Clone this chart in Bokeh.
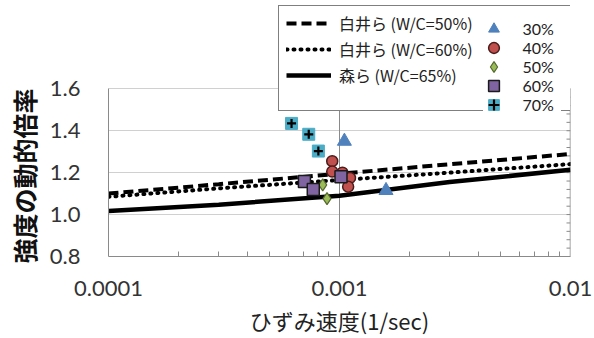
import math
from bokeh.plotting import figure
from bokeh.models import (FixedTicker, Legend, LegendItem, Range1d, Title,
                          PrintfTickFormatter, CustomJSTickFormatter)
from bokeh.embed import file_html
from bokeh.resources import INLINE

# ---- data ----
strain_line = [1e-4, 3e-4, 1e-3, 3e-3, 1e-2]
shirai_50 = [1.100, 1.145, 1.195, 1.240, 1.289]
shirai_60 = [1.085, 1.125, 1.165, 1.200, 1.241]
mori_65 = [1.017, 1.047, 1.090, 1.155, 1.214]

wc30_x = [1.05e-3, 1.59e-3]
wc30_y = [1.350, 1.115]
wc40_x = [9.3e-4, 9.3e-4, 1.03e-3, 1.11e-3, 1.09e-3]
wc40_y = [1.255, 1.205, 1.200, 1.175, 1.133]
wc50_x = [8.46e-4, 8.83e-4]
wc50_y = [1.142, 1.076]
wc60_x = [7.05e-4, 7.7e-4, 1.015e-3]
wc60_y = [1.158, 1.120, 1.181]
wc70_x = [6.2e-4, 7.36e-4, 8.1e-4]
wc70_y = [1.435, 1.383, 1.303]

x_ticks = [1e-4, 1e-3, 1e-2]
x_tick_labels = ["0.0001", "0.001", "0.01"]
x_minor = [k * 10.0 ** e for e in (-4, -3) for k in range(2, 10)]
y_ticks = [0.8, 1.0, 1.2, 1.4, 1.6]
y_minor = [round(0.8 + 0.04 * i, 2) for i in range(21)]

x_title = "ひずみ速度(1/sec)"
y_title = "強度の動的倍率"
line_labels = ["白井ら (W/C=50%)", "白井ら (W/C=60%)", "森ら (W/C=65%)"]
marker_labels = ["30%", "40%", "50%", "60%", "70%"]

CJK = "Noto Sans CJK JP"
LAT = "Lato"
GRAY = "#8a8a8a"

# frame spans the full height above the x axis so the legend can overlap the top
FRAME_H = 258
PX_PER_UNIT = 169 / (y_ticks[-1] - y_ticks[0])
y_top = y_ticks[0] + FRAME_H / PX_PER_UNIT

p = figure(width=594, height=338, x_axis_type="log",
           x_range=Range1d(x_ticks[0], x_ticks[-1]), y_range=Range1d(y_ticks[0], y_top),
           output_backend="svg", toolbar_location=None,
           min_border_left=107, min_border_right=24,
           min_border_top=0, min_border_bottom=80)
p.outline_line_color = None
p.background_fill_color = "white"
p.border_fill_color = "white"

# x axis
xa = p.xaxis[0]
xa.ticker = FixedTicker(ticks=x_ticks, minor_ticks=x_minor)
xa.formatter = CustomJSTickFormatter(args=dict(xt=x_ticks, xl=x_tick_labels), code="""
let best = 0, bd = 1e9;
for (let i = 0; i < xt.length; i++) {
  const d = Math.abs(Math.log10(xt[i]) - Math.log10(tick));
  if (d < bd) { bd = d; best = i; }
}
return xl[best];
""")
xa.axis_line_color = GRAY
xa.major_tick_in = 0
xa.major_tick_out = 0
xa.minor_tick_in = 5
xa.minor_tick_out = 0
xa.minor_tick_line_color = GRAY
xa.major_label_text_font = LAT
xa.major_label_text_font_size = "22px"
xa.major_label_text_color = "#333333"
xa.major_label_standoff = 24
xa.axis_label = x_title
xa.axis_label_text_font = CJK
xa.axis_label_text_font_size = "22px"
xa.axis_label_text_font_style = "normal"
xa.axis_label_text_color = "#222222"
xa.axis_label_standoff = 5

# y axis
ya = p.yaxis[0]
ya.ticker = FixedTicker(ticks=y_ticks)
ya.bounds = (y_ticks[0], y_ticks[-1])
ya.formatter = PrintfTickFormatter(format="%.1f")
ya.axis_line_color = GRAY
ya.major_tick_in = 0
ya.major_tick_out = 0
ya.minor_tick_in = 0
ya.minor_tick_out = 0
ya.major_label_text_font = LAT
ya.major_label_text_font_size = "22px"
ya.major_label_text_color = "#333333"
ya.major_label_standoff = 28

# y title as a left-side title, aligned from the bottom of the panel
yt = Title(text=y_title, align="left", offset=-7, standoff=8, vertical_align="middle",
           text_font=CJK, text_font_size="25px", text_font_style="bold",
           text_color="#111111")
p.add_layout(yt, "left")

# grids
p.xgrid.visible = False
p.ygrid.grid_line_color = "#d0d0d0"
p.ygrid.grid_line_width = 1
p.segment(x0=[x_ticks[1]], y0=[y_ticks[0]], x1=[x_ticks[1]], y1=[y_ticks[-1]],
          line_color=GRAY, line_width=1)
# right border with inward minor ticks
p.segment(x0=[x_ticks[-1]], y0=[y_ticks[0]], x1=[x_ticks[-1]], y1=[y_ticks[-1]],
          line_color=GRAY, line_width=1.5)
p.ray(x=[x_ticks[-1]] * len(y_minor), y=y_minor, length=4, length_units="screen",
      angle=math.pi, line_color=GRAY, line_width=1)

# lines
l50 = p.line(strain_line, shirai_50, line_color="black", line_width=4, line_dash="10 5")
l60 = p.line(strain_line, shirai_60, line_color="black", line_width=4, line_dash="1 6", line_cap="round")
l65 = p.line(strain_line, mori_65, line_color="black", line_width=4.5)
dummy = p.line(strain_line, mori_65, line_alpha=0)

# markers
m30 = p.scatter(wc30_x, wc30_y, marker="triangle", size=14, fill_color="#4F81BD", line_color="#4F81BD")
m40 = p.scatter(wc40_x, wc40_y, marker="circle", size=11, fill_color="#C0504D", line_color="#4a1c1b", line_width=1.5)
m50 = p.scatter(wc50_x, wc50_y, marker="diamond", size=12, fill_color="#9BBB59", line_color="#55692f", line_width=1.2)
m60 = p.scatter(wc60_x, wc60_y, marker="square", size=12, fill_color="#8064A2", line_color="#1a1a1a", line_width=1.5)
m70a = p.scatter(wc70_x, wc70_y, marker="square", size=12, fill_color="#4BACC6", line_color="#4BACC6")
m70b = p.scatter(wc70_x, wc70_y, marker="cross", size=9, line_color="black", line_width=2.2)


def blank_box(x, y, w, h, border):
    """legend used only as a plain box (frame-relative screen position of its bottom-left)"""
    return Legend(items=[LegendItem(label=" ", renderers=[dummy])],
                  location=(x, y), padding=0, margin=0,
                  glyph_width=1, glyph_height=1, label_standoff=0,
                  label_width=w - 1, label_height=h, label_text_font_size="1px",
                  border_line_color="black" if border else None, border_line_width=1.3,
                  background_fill_color="white", background_fill_alpha=1)


# outer legend frame, then a white patch behind the marker entries
p.add_layout(blank_box(170, 145, 292, 104, True), "center")
p.add_layout(blank_box(375, 142, 78, 97, False), "center")

leg_lines = Legend(items=[LegendItem(label=line_labels[0], renderers=[l50]),
                          LegendItem(label=line_labels[1], renderers=[l60]),
                          LegendItem(label=line_labels[2], renderers=[l65])],
                   location=(178, 169), padding=0, margin=0,
                   glyph_width=45, glyph_height=20, label_height=20,
                   label_standoff=8, spacing=2,
                   border_line_color=None, background_fill_alpha=0,
                   label_text_font=CJK, label_text_font_size="16px",
                   label_text_color="#222222")
p.add_layout(leg_lines, "center")

# marker entries: one small legend per row so the glyphs can be large and rows tight
marker_renderers = [[m30], [m40], [m50], [m60], [m70a, m70b]]
ROW0, PITCH, GH = 30.5, 19.0, 27
for i, (lab, rends) in enumerate(zip(marker_labels, marker_renderers)):
    cy = ROW0 + PITCH * i
    leg = Legend(items=[LegendItem(label=lab, renderers=rends)],
                 location=(371.5, FRAME_H - (cy + GH / 2)), padding=0, margin=0,
                 glyph_width=GH, glyph_height=GH, label_height=GH,
                 label_standoff=16, label_width=34,
                 border_line_color=None, background_fill_alpha=0,
                 label_text_font=LAT, label_text_font_size="16px",
                 label_text_color="#222222")
    p.add_layout(leg, "center")

open("out.html", "w").write(file_html(p, INLINE))
